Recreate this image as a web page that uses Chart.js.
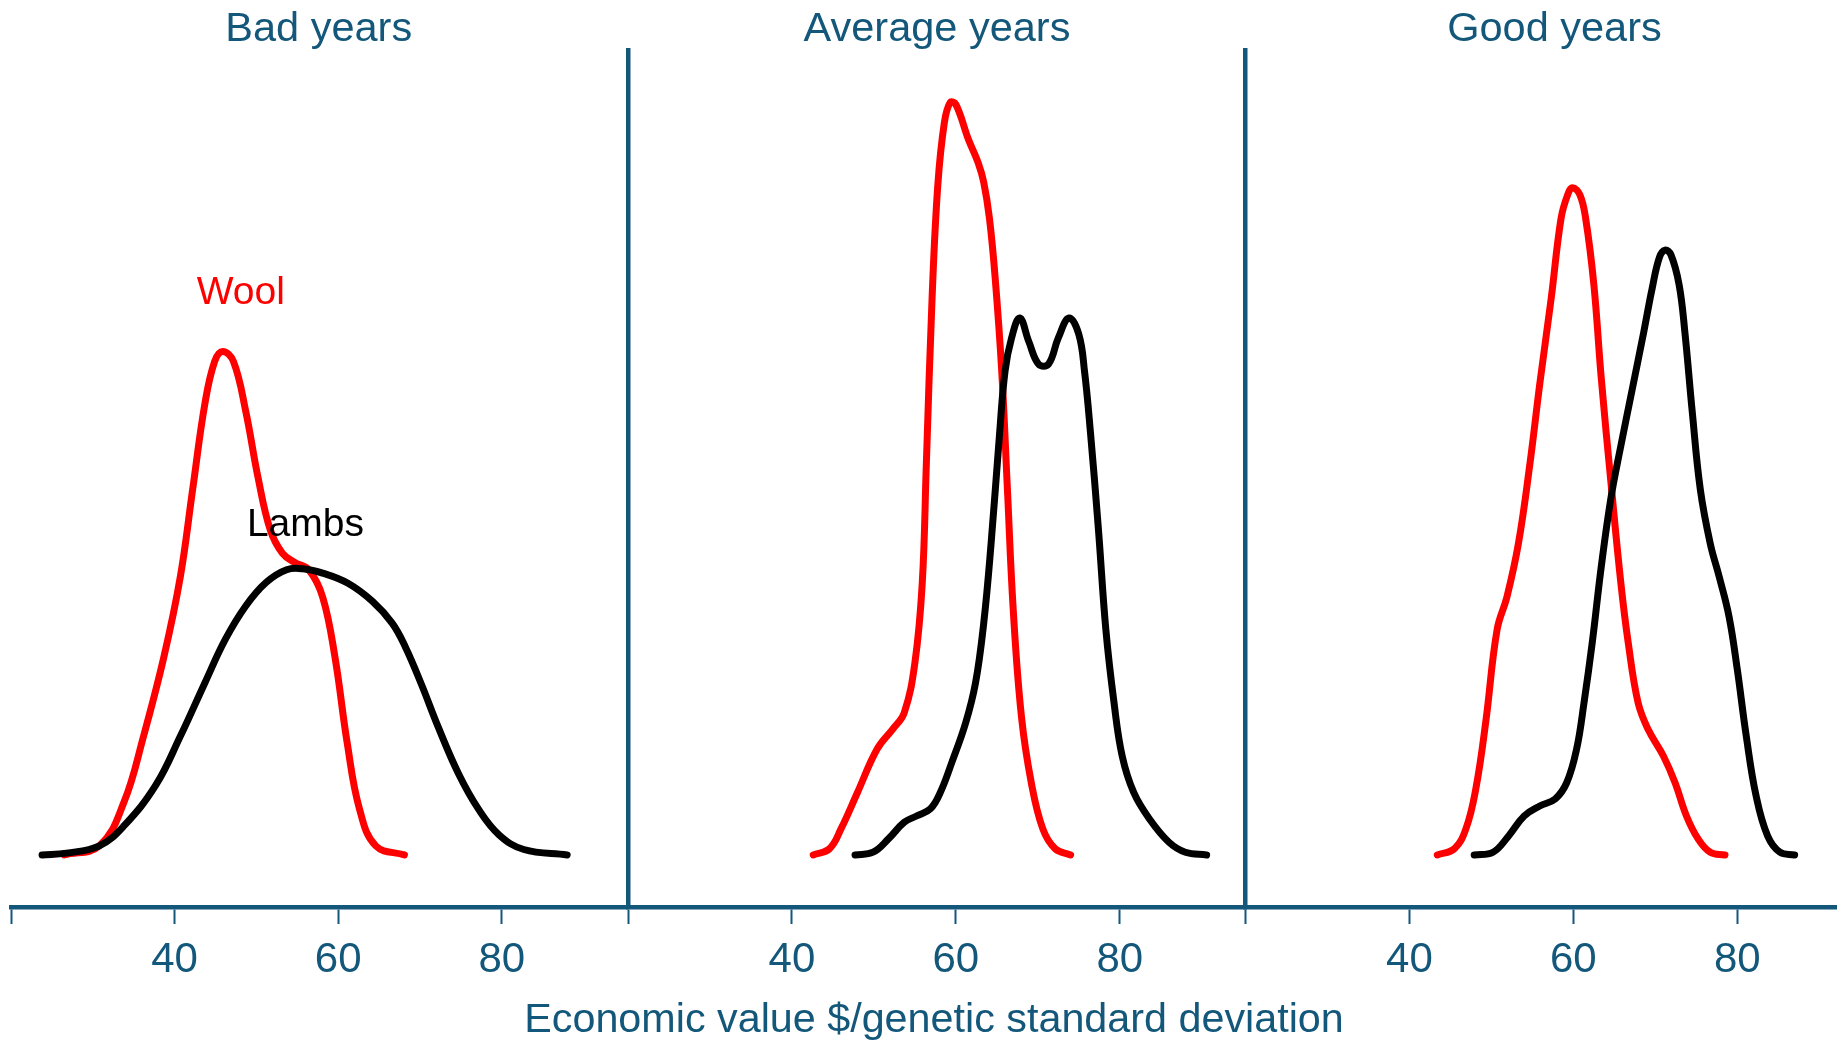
<!DOCTYPE html>
<html>
<head>
<meta charset="utf-8">
<script src="https://cdn.jsdelivr.net/npm/chart.js@4.4.0/dist/chart.umd.min.js"></script>
<style>
  html, body { margin: 0; padding: 0; background: #fff; overflow: hidden; }
  #wrap { position: relative; width: 1837px; height: 1040px; overflow: hidden; }
  #wrap canvas { position: absolute; left: 0; top: 0; }
</style>
</head>
<body>
<div id="wrap">
  <canvas id="bad" width="1837" height="1040"></canvas>
  <canvas id="avg" width="1837" height="1040"></canvas>
  <canvas id="good" width="1900" height="1040"></canvas>
</div>
<script>
// kernel densities of economic value
const panelTitles = ['Bad years', 'Average years', 'Good years'];
const xTicks = [20, 40, 60, 80];
const xLabelled = [40, 60, 80];
const xTitle = 'Economic value $/genetic standard deviation';

// bad years
const woolBadX = [26.5, 30.8, 33.8, 36.2, 38.7, 40.7, 42.2, 43.7, 44.9, 45.9, 47.2, 48.7, 50.2, 51.7, 53.2, 54.7, 56.4, 58.1, 59.6, 61.1, 62.6, 64.6, 68.1];
const woolBadY = [0, 0.0010, 0.0058, 0.0131, 0.0219, 0.0307, 0.0403, 0.0498, 0.0545, 0.0556, 0.0545, 0.0490, 0.0417, 0.0359, 0.0333, 0.0323, 0.0315, 0.0285, 0.0219, 0.0124, 0.0051, 0.0010, 0];
const lambsBadX = [23.8, 26.8, 30.8, 33.8, 37.7, 40.7, 43.7, 46.2, 48.7, 51.2, 53.7, 55.7, 58.2, 61.2, 64.2, 66.6, 68.2, 70.2, 72.2, 74.7, 77.2, 79.7, 82.7, 88.0];
const lambsBadY = [0, 0.0002, 0.0010, 0.0032, 0.0077, 0.0131, 0.0190, 0.0238, 0.0275, 0.0301, 0.0315, 0.0316, 0.0311, 0.0300, 0.0280, 0.0256, 0.0230, 0.0188, 0.0142, 0.0090, 0.0050, 0.0022, 0.0006, 0];

// average years
const woolAvgX = [42.6, 44.6, 46.0, 48.0, 50.4, 52.3, 53.7, 55.0, 55.9, 56.4, 57.1, 57.8, 58.6, 59.3, 60.0, 61.5, 62.7, 63.4, 64.1, 64.8, 65.6, 66.3, 67.0, 68.0, 69.2, 70.6, 72.1, 74.0];
const woolAvgY = [0, 0.0007, 0.0029, 0.0069, 0.0117, 0.0139, 0.0157, 0.0212, 0.0300, 0.0432, 0.0615, 0.0740, 0.0809, 0.0831, 0.0829, 0.0791, 0.0765, 0.0743, 0.0703, 0.0637, 0.0534, 0.0402, 0.0271, 0.0153, 0.0080, 0.0029, 0.0007, 0];
const lambsAvgX = [47.7, 49.9, 51.8, 53.7, 55.2, 56.9, 58.1, 59.5, 61.2, 62.4, 63.4, 64.3, 65.3, 66.0, 66.8, 67.8, 68.9, 70.1, 71.3, 72.5, 73.8, 75.0, 75.7, 76.4, 77.4, 78.3, 79.3, 80.3, 81.7, 83.6, 86.0, 88.0, 90.6];
const lambsAvgY = [0, 0.0003, 0.0018, 0.0036, 0.0043, 0.0051, 0.0069, 0.0102, 0.0146, 0.0190, 0.0256, 0.0344, 0.0461, 0.0534, 0.0571, 0.0593, 0.0567, 0.0542, 0.0542, 0.0571, 0.0593, 0.0575, 0.0534, 0.0469, 0.0359, 0.0249, 0.0168, 0.0109, 0.0069, 0.0040, 0.0014, 0.0003, 0];

// good years
const woolGoodX = [43.4, 45.5, 46.9, 48.1, 49.3, 50.7, 51.9, 53.3, 54.7, 55.9, 57.3, 58.5, 59.3, 59.9, 60.8, 61.5, 62.5, 63.4, 64.6, 65.8, 66.7, 67.9, 69.1, 71.0, 72.4, 73.8, 75.2, 76.7, 78.5];
const woolGoodY = [0, 0.0007, 0.0029, 0.0073, 0.0146, 0.0249, 0.0285, 0.0344, 0.0432, 0.0520, 0.0615, 0.0703, 0.0729, 0.0737, 0.0729, 0.0703, 0.0630, 0.0527, 0.0410, 0.0300, 0.0234, 0.0168, 0.0139, 0.0109, 0.0080, 0.0043, 0.0018, 0.0003, 0];
const lambsGoodX = [47.9, 50.2, 52.1, 54.0, 55.9, 57.8, 59.2, 60.4, 61.3, 62.3, 63.4, 64.6, 65.8, 67.2, 68.6, 69.6, 70.5, 71.2, 71.9, 72.9, 73.6, 74.5, 75.5, 76.7, 77.8, 79.0, 80.0, 81.1, 82.3, 83.7, 85.2, 87.0];
const lambsGoodY = [0, 0.0003, 0.0021, 0.0043, 0.0054, 0.0062, 0.0080, 0.0117, 0.0168, 0.0234, 0.0318, 0.0395, 0.0452, 0.0515, 0.0578, 0.0625, 0.0660, 0.0668, 0.0663, 0.0630, 0.0578, 0.0490, 0.0403, 0.0344, 0.0307, 0.0263, 0.0205, 0.0131, 0.0065, 0.0021, 0.0003, 0];

// curve labels in the first panel (data coords)
const labelTexts = ['Wool', 'Lambs'];
const labelX = [48.1, 56.0];
const labelY = [0.0608, 0.0352];
const labelColors = ['#ff0000', '#000000'];

const navy = '#13577a';
const font = 'Liberation Sans, Arial, Helvetica, sans-serif';
const panelLeft = [9.7, 628, 1245.5];
const panelWidth = 618;

const pts = (xs, ys) => xs.map((x, i) => ({ x: x, y: ys[i] }));

const curveLabels = {
  id: 'curveLabels',
  afterDatasetsDraw(chart) {
    const c = chart.ctx, sx = chart.scales.x, sy = chart.scales.y;
    c.save();
    c.font = '39px ' + font;
    c.textAlign = 'center';
    c.textBaseline = 'alphabetic';
    labelTexts.forEach((t, i) => {
      c.fillStyle = labelColors[i];
      c.fillText(t, sx.getPixelForValue(labelX[i]), sy.getPixelForValue(labelY[i]));
    });
    c.restore();
  }
};

// shared x title, wider than one panel so drawn without maxWidth
const axisTitle = {
  id: 'axisTitle',
  afterDraw(chart) {
    const c = chart.ctx, a = chart.chartArea;
    c.save();
    c.font = '41.3px ' + font;
    c.fillStyle = navy;
    c.textAlign = 'center';
    c.textBaseline = 'alphabetic';
    c.fillText(xTitle, (a.left + a.right) / 2 - 3, 1032);
    c.restore();
  }
};

function makePanel(id, idx, wool, lambs, opts) {
  const cv = document.getElementById(id);
  const plugins = [];
  if (opts.labels) plugins.push(curveLabels);
  if (opts.xTitle) plugins.push(axisTitle);
  return new Chart(cv.getContext('2d'), {
    type: 'line',
    data: {
      datasets: [
        { label: 'Wool', data: wool, borderColor: '#ff0000', order: 1 },
        { label: 'Lambs', data: lambs, borderColor: '#000000', order: 0 }
      ]
    },
    options: {
      responsive: false,
      animation: false,
      events: [],
      layout: { padding: { left: panelLeft[idx], right: cv.width - panelLeft[idx] - panelWidth, top: 0, bottom: 0 } },
      elements: {
        line: { borderWidth: 7, tension: 0.4, fill: false, borderCapStyle: 'round', borderJoinStyle: 'round' },
        point: { radius: 0 }
      },
      plugins: {
        legend: { display: false },
        tooltip: { enabled: false },
        title: {
          display: true, text: panelTitles[idx], color: navy,
          font: { family: font, size: 41.5, weight: 'normal', lineHeight: 1 },
          padding: { top: 8.5, bottom: 0 }
        }
      },
      scales: {
        x: {
          type: 'linear', min: 20, max: 95.4,
          afterBuildTicks: s => { s.ticks = xTicks.map(v => ({ value: v })); },
          afterFit: s => { s.height = 133; },
          ticks: {
            color: navy, font: { family: font, size: 42 }, padding: 11,
            maxRotation: 0, autoSkip: false,
            callback: v => xLabelled.includes(v) ? String(v) : ''
          },
          grid: { drawOnChartArea: false, drawTicks: true, tickLength: 17, tickWidth: 2, tickColor: navy },
          border: { display: true, color: navy, width: 4.5 }
        },
        y: {
          type: 'linear', min: -0.00575, max: 0.0889,
          display: !!opts.yLine,
          afterFit: s => { s.width = 0; },
          ticks: { display: false },
          grid: { drawOnChartArea: false, drawTicks: false },
          border: { display: true, color: navy, width: 4.5 }
        }
      }
    },
    plugins: plugins
  });
}

makePanel('bad', 0, pts(woolBadX, woolBadY), pts(lambsBadX, lambsBadY), { labels: true });
makePanel('avg', 1, pts(woolAvgX, woolAvgY), pts(lambsAvgX, lambsAvgY), { yLine: true, xTitle: true });
makePanel('good', 2, pts(woolGoodX, woolGoodY), pts(lambsGoodX, lambsGoodY), { yLine: true });
</script>
</body>
</html>
